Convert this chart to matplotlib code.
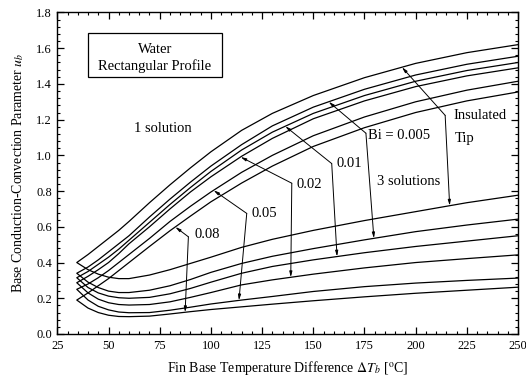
import numpy as np
import matplotlib
matplotlib.use("Agg")
import matplotlib.pyplot as plt
from matplotlib.patches import Rectangle
from matplotlib.ticker import MultipleLocator

plt.rcParams['font.family'] = ['Liberation Serif', 'DejaVu Serif']
plt.rcParams['mathtext.fontset'] = 'stix'

# ---------------- data ----------------
dT = [34.5, 40, 45, 50, 55, 60, 70, 80, 90, 100, 115, 130, 150, 175, 200, 225, 250]

bi_labels = ["Insulated Tip", "0.005", "0.01", "0.02", "0.05", "0.08"]

upper_it   = [0.40, 0.445, 0.49, 0.535, 0.58, 0.63, 0.735, 0.835, 0.93, 1.02, 1.14, 1.235, 1.335, 1.435, 1.515, 1.575, 1.62]
upper_0005 = [0.34, 0.375, 0.415, 0.46, 0.505, 0.55, 0.655, 0.755, 0.85, 0.94, 1.06, 1.165, 1.27, 1.37, 1.45, 1.51, 1.555]
upper_001  = [0.315, 0.35, 0.39, 0.43, 0.475, 0.525, 0.625, 0.725, 0.82, 0.91, 1.03, 1.13, 1.235, 1.335, 1.415, 1.475, 1.52]
upper_002  = [0.287, 0.323, 0.36, 0.40, 0.45, 0.505, 0.60, 0.70, 0.795, 0.88, 0.995, 1.095, 1.205, 1.305, 1.385, 1.445, 1.49]
upper_005  = [0.25, 0.28, 0.315, 0.355, 0.40, 0.445, 0.535, 0.63, 0.715, 0.795, 0.905, 1.00, 1.11, 1.215, 1.30, 1.365, 1.415]
upper_008  = [0.19, 0.23, 0.27, 0.31, 0.355, 0.40, 0.49, 0.578, 0.66, 0.74, 0.845, 0.94, 1.05, 1.155, 1.24, 1.305, 1.355]

lower_it   = [0.40, 0.36, 0.335, 0.318, 0.31, 0.31, 0.33, 0.36, 0.395, 0.43, 0.485, 0.53, 0.58, 0.635, 0.685, 0.735, 0.777]
lower_0005 = [0.34, 0.29, 0.26, 0.24, 0.232, 0.232, 0.245, 0.27, 0.305, 0.345, 0.395, 0.435, 0.478, 0.527, 0.573, 0.61, 0.643]
lower_001  = [0.315, 0.26, 0.23, 0.212, 0.203, 0.20, 0.205, 0.225, 0.255, 0.29, 0.34, 0.378, 0.415, 0.455, 0.49, 0.52, 0.55]
lower_002  = [0.287, 0.23, 0.195, 0.175, 0.165, 0.162, 0.165, 0.18, 0.205, 0.232, 0.275, 0.303, 0.335, 0.37, 0.40, 0.422, 0.443]
lower_005  = [0.25, 0.19, 0.155, 0.135, 0.123, 0.119, 0.12, 0.133, 0.15, 0.168, 0.19, 0.21, 0.238, 0.265, 0.285, 0.30, 0.313]
lower_008  = [0.19, 0.145, 0.12, 0.105, 0.098, 0.097, 0.10, 0.112, 0.125, 0.137, 0.152, 0.167, 0.186, 0.208, 0.228, 0.245, 0.262]

uppers = [upper_it, upper_0005, upper_001, upper_002, upper_005, upper_008]
lowers = [lower_it, lower_0005, lower_001, lower_002, lower_005, lower_008]

# leader-line anchor x positions on upper and lower branches
upper_tip_x = [193.3, 157.5, 136.3, 114.5, 101.3, 82.6]
lower_tip_x = [216.6, 179.6, 161.6, 139.0, 113.7, 87.4]

# ---------------- figure ----------------
fig = plt.figure(figsize=(5.26, 3.85), dpi=100)
ax = fig.add_axes([0.109, 0.1325, 0.8759, 0.8351])

x = np.array(dT)
for up, lo in zip(uppers, lowers):
    xs = np.concatenate([x[::-1], x[1:]])
    ys = np.concatenate([np.array(lo)[::-1], np.array(up)[1:]])
    ax.plot(xs, ys, color='black', lw=0.9, solid_joinstyle='round')

# leader lines with label text
bends = [(214.4, 1.224), (175.7, 1.124), (159.0, 0.954), (139.5, 0.844), (117.5, 0.675), (89.0, 0.544)]
arrow_style = dict(arrowstyle='-|>,head_length=0.4,head_width=0.1', color='black',
                   lw=0.7, shrinkA=0, shrinkB=0, mutation_scale=8)
for i in range(len(bi_labels)):
    bx, by = bends[i]
    ux = upper_tip_x[i]
    uy = np.interp(ux, x, uppers[i])
    lx = lower_tip_x[i]
    ly = np.interp(lx, x, lowers[i])
    ax.annotate('', xy=(ux, uy), xytext=(bx, by), arrowprops=arrow_style)
    ax.annotate('', xy=(lx, ly), xytext=(bx, by), arrowprops=arrow_style)

fs = 10.5
ax.text(218.4, 1.224, "Insulated", fontsize=fs, ha='left', va='center')
ax.text(219.2, 1.094, "Tip", fontsize=fs, ha='left', va='center')
ax.text(176.9, 1.112, "Bi = " + bi_labels[1], fontsize=fs, ha='left', va='center')
ax.text(161.1, 0.954, bi_labels[2], fontsize=fs, ha='left', va='center')
ax.text(141.9, 0.838, bi_labels[3], fontsize=fs, ha='left', va='center')
ax.text(119.9, 0.675, bi_labels[4], fontsize=fs, ha='left', va='center')
ax.text(92.2, 0.557, bi_labels[5], fontsize=fs, ha='left', va='center')
ax.text(196.4, 0.851, "3 solutions", fontsize=fs, ha='center', va='center')
ax.text(76.4, 1.15, "1 solution", fontsize=fs, ha='center', va='center')

# title box
ax.add_patch(Rectangle((40.0, 1.436), 65.4, 0.251, fill=False, ec='black', lw=0.9))
ax.text(72.7, 1.592, "Water", fontsize=fs, ha='center', va='center')
ax.text(72.7, 1.497, "Rectangular Profile", fontsize=fs, ha='center', va='center')

# axes formatting
ax.set_xlim(25, 250)
ax.set_ylim(0.0, 1.8)
ax.xaxis.set_major_locator(MultipleLocator(25))
ax.xaxis.set_minor_locator(MultipleLocator(5))
ax.yaxis.set_major_locator(MultipleLocator(0.2))
ax.yaxis.set_minor_locator(MultipleLocator(0.04))
ax.yaxis.set_major_formatter(matplotlib.ticker.FormatStrFormatter('%.1f'))
ax.tick_params(which='both', direction='in', top=True, right=True, labelsize=9, pad=4)
ax.tick_params(which='major', length=5, width=0.9)
ax.tick_params(which='minor', length=2.5, width=0.8)
for s in ax.spines.values():
    s.set_linewidth(1.0)

ax.set_xlabel(r'Fin Base Temperature Difference $\Delta T_b$ [$^{\mathrm{o}}$C]', fontsize=10)
ax.set_ylabel(r'Base Conduction-Convection Parameter $u_b$', fontsize=10)
ax.xaxis.set_label_coords(0.5, -0.106)
ax.xaxis.label.set_va('center')
ax.yaxis.set_label_coords(-0.085, 0.5)
ax.yaxis.label.set_va('center')

fig.savefig("out.png", dpi=100)
